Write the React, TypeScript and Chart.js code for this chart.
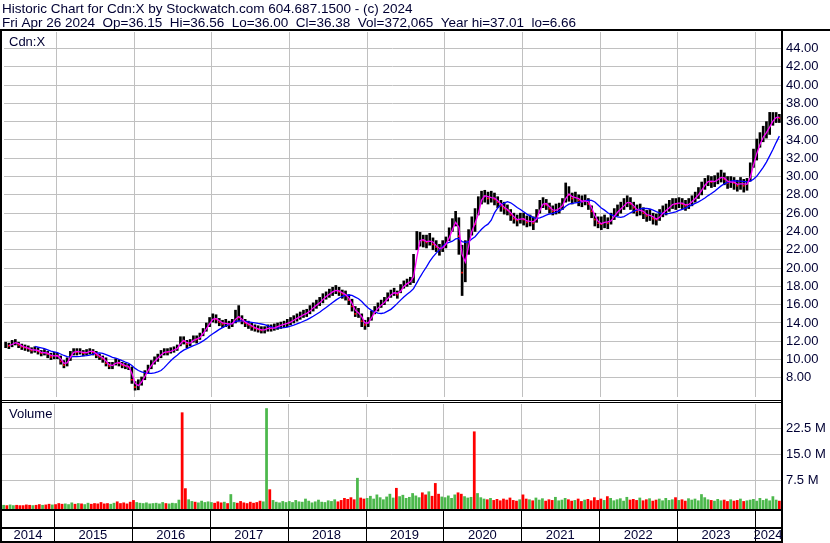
import React, { useEffect, useRef } from 'react';
import { Chart, registerables } from 'chart.js';

Chart.register(...registerables);

// ---------- text ----------
const TITLE_LINE_1 = 'Historic Chart for Cdn:X by Stockwatch.com 604.687.1500 - (c) 2024';
const TITLE_LINE_2 = 'Fri Apr 26 2024  Op=36.15  Hi=36.56  Lo=36.00  Cl=36.38  Vol=372,065  Year hi=37.01  lo=6.66';
const SYMBOL = 'Cdn:X';
const VOLUME_TITLE = 'Volume';

// ---------- periods (half-months, May 2014 .. Apr 2024) ----------
const FIRST_YEAR = 2014;
const FIRST_MONTH = 5;
const PERIOD_COUNT = 240;
const PERIODS: string[] = [];
for (let k = 0; k < PERIOD_COUNT; k++) {
  const m = FIRST_MONTH - 1 + Math.floor(k / 2);
  const y = FIRST_YEAR + Math.floor(m / 12);
  PERIODS.push(`${y}-${(m % 12) + 1}${k % 2 ? 'b' : 'a'}`);
}

// ---------- price (half-month high / low / close) ----------
const HIGH = [
  11.9, 11.8, 12.1, 12.2, 11.9, 11.7, 11.6, 11.5, 11.3, 11.4, 11.3, 11.0, 11.1, 10.9, 10.7, 10.8,
  10.7, 10.4, 9.9, 10.2, 10.9, 11.2, 11.2, 11.2, 11.0, 11.1, 11.2, 11.1, 10.9, 10.6, 10.4, 10.2, 9.7, 9.7, 10.1, 10.0, 9.7, 9.6, 9.5, 9.2,
  7.6, 7.8, 8.1, 8.8, 9.4, 9.9, 10.3, 10.6, 11.0, 11.2, 11.2, 11.3, 11.4, 11.6, 12.5, 12.5, 12.1, 12.2, 12.6, 12.6, 12.9, 13.4, 14.0, 14.6,
  15.0, 14.9, 14.5, 14.3, 14.4, 14.2, 14.4, 15.4, 15.9, 14.8, 14.4, 14.2, 14.0, 13.8, 13.7, 13.6, 13.6, 13.8, 13.8, 13.9, 14.0, 14.1, 14.2, 14.4,
  14.6, 14.8, 15.0, 15.2, 15.4, 15.5, 15.9, 16.2, 16.5, 16.8, 17.2, 17.4, 17.7, 17.9, 18.1, 17.9, 17.6, 17.5, 17.1, 16.6, 15.8, 15.6, 15.0, 14.3,
  14.6, 15.3, 15.8, 16.2, 16.5, 16.8, 17.3, 17.6, 17.8, 17.5, 18.2, 18.6, 18.8, 19.0, 21.5, 24.0, 23.9, 23.6, 23.6, 23.8, 23.3, 23.0, 22.6, 23.0,
  23.4, 24.4, 25.4, 26.2, 25.5, 22.5, 23.0, 24.2, 25.6, 26.5, 27.8, 28.4, 28.5, 28.3, 28.4, 28.2, 27.8, 27.4, 27.2, 26.9, 26.4, 26.0, 25.8, 26.0,
  26.0, 25.7, 25.8, 25.6, 26.4, 27.4, 27.7, 27.5, 27.1, 26.8, 27.0, 27.1, 27.6, 29.3, 28.9, 28.2, 28.3, 28.0, 27.9, 28.0, 27.6, 26.8, 26.0, 25.6,
  25.6, 25.8, 25.5, 26.0, 26.5, 26.9, 27.2, 27.6, 27.9, 27.7, 27.2, 26.9, 27.0, 26.6, 26.3, 26.4, 26.0, 25.9, 26.4, 26.8, 27.0, 27.4, 27.6, 27.6,
  27.7, 27.6, 27.4, 27.6, 27.9, 28.3, 28.8, 29.4, 29.8, 30.1, 30.0, 30.1, 30.4, 30.7, 30.4, 30.0, 30.0, 29.9, 29.6, 29.9, 29.7, 29.8, 31.5, 33.0,
  34.1, 34.8, 35.5, 36.0, 37.01, 37.0, 37.0, 36.8,
];

const LOW = [
  11.3, 11.2, 11.4, 11.6, 11.3, 11.1, 11.0, 10.9, 10.7, 10.8, 10.6, 10.4, 10.5, 10.2, 10.0, 10.1,
  10.1, 9.5, 9.1, 9.3, 9.9, 10.5, 10.5, 10.6, 10.4, 10.5, 10.6, 10.5, 10.2, 10.0, 9.7, 9.3, 9.0, 9.0, 9.4, 9.3, 9.1, 9.0, 8.9, 7.4,
  6.66, 6.7, 7.2, 7.8, 8.5, 9.0, 9.5, 9.8, 10.2, 10.5, 10.5, 10.7, 10.8, 11.0, 11.5, 11.7, 11.3, 11.5, 11.9, 11.8, 12.2, 12.6, 13.1, 13.6,
  14.1, 14.0, 13.7, 13.5, 13.6, 13.4, 13.6, 14.0, 14.2, 13.9, 13.6, 13.4, 13.2, 13.1, 13.0, 12.9, 12.9, 13.1, 13.1, 13.2, 13.3, 13.4, 13.5, 13.6,
  13.8, 14.0, 14.2, 14.4, 14.6, 14.7, 15.0, 15.3, 15.6, 15.9, 16.2, 16.6, 16.8, 17.0, 17.2, 17.0, 16.7, 16.5, 16.0, 15.3, 14.7, 14.6, 13.6, 13.3,
  13.6, 14.3, 15.0, 15.3, 15.7, 16.0, 16.4, 16.8, 17.0, 16.7, 17.3, 17.8, 18.0, 18.2, 18.4, 22.0, 22.4, 22.3, 22.2, 22.5, 22.0, 21.8, 21.4, 21.8,
  22.2, 23.0, 24.0, 24.6, 21.5, 17.0, 18.5, 21.5, 23.6, 24.0, 25.8, 27.0, 27.2, 27.0, 27.2, 26.9, 26.6, 26.2, 25.9, 25.8, 25.2, 24.9, 24.6, 24.9,
  24.7, 24.5, 24.6, 24.2, 25.0, 26.0, 26.6, 26.4, 26.0, 25.8, 25.9, 26.0, 26.4, 27.2, 27.3, 27.0, 27.2, 26.8, 26.7, 26.9, 26.4, 25.5, 24.6, 24.4,
  24.2, 24.4, 24.3, 24.8, 25.3, 25.7, 26.0, 26.4, 26.7, 26.4, 26.0, 25.7, 25.8, 25.4, 25.1, 25.2, 24.8, 24.7, 25.2, 25.6, 25.8, 26.2, 26.5, 26.4,
  26.6, 26.5, 26.3, 26.5, 26.8, 27.2, 27.6, 28.0, 28.6, 29.0, 28.8, 28.9, 29.2, 29.4, 29.1, 28.7, 28.8, 28.6, 28.4, 28.6, 28.3, 28.5, 29.5, 31.0,
  31.8, 33.2, 33.8, 34.2, 34.6, 35.6, 35.9, 35.9,
];

const CLOSE = [
  11.6, 11.5, 11.8, 11.9, 11.6, 11.4, 11.3, 11.2, 11.0, 11.1, 10.9, 10.7, 10.8, 10.6, 10.3, 10.5,
  10.4, 9.8, 9.4, 9.9, 10.6, 11.0, 10.8, 10.9, 10.7, 10.8, 11.0, 10.8, 10.5, 10.3, 10.1, 9.6, 9.3, 9.4, 9.8, 9.6, 9.4, 9.3, 9.2, 7.8,
  7.0, 7.3, 7.8, 8.5, 9.1, 9.6, 10.0, 10.3, 10.7, 10.9, 10.8, 11.0, 11.1, 11.3, 12.2, 12.0, 11.7, 11.9, 12.3, 12.2, 12.6, 13.1, 13.6, 14.2,
  14.6, 14.4, 14.1, 13.9, 14.0, 13.8, 14.0, 14.8, 14.6, 14.2, 14.0, 13.8, 13.6, 13.4, 13.3, 13.2, 13.3, 13.5, 13.4, 13.5, 13.7, 13.8, 13.9, 14.0,
  14.2, 14.4, 14.6, 14.8, 15.0, 15.1, 15.5, 15.8, 16.1, 16.3, 16.8, 17.0, 17.3, 17.5, 17.6, 17.4, 17.2, 17.0, 16.5, 15.8, 15.0, 15.2, 14.2, 13.8,
  14.2, 14.9, 15.4, 15.8, 16.1, 16.4, 16.9, 17.2, 17.4, 17.1, 17.8, 18.2, 18.4, 18.6, 19.5, 22.8, 23.2, 23.0, 22.8, 23.1, 22.6, 22.3, 22.0, 22.4,
  22.8, 23.8, 24.6, 25.4, 23.5, 19.5, 21.8, 23.0, 25.0, 24.8, 27.0, 27.8, 28.0, 27.6, 27.8, 27.5, 27.2, 26.8, 26.5, 26.3, 25.8, 25.4, 25.2, 25.5,
  25.3, 25.0, 25.2, 24.9, 25.8, 26.8, 27.2, 26.9, 26.5, 26.2, 26.4, 26.6, 27.0, 28.2, 28.0, 27.6, 27.8, 27.4, 27.2, 27.5, 27.0, 26.2, 25.3, 24.9,
  24.8, 25.2, 24.9, 25.4, 25.9, 26.3, 26.6, 27.0, 27.3, 27.0, 26.6, 26.2, 26.4, 26.0, 25.7, 25.8, 25.4, 25.3, 25.8, 26.2, 26.4, 26.8, 27.1, 27.0,
  27.2, 27.0, 26.8, 27.1, 27.4, 27.8, 28.2, 28.8, 29.3, 29.6, 29.4, 29.5, 29.8, 30.0, 29.7, 29.3, 29.5, 29.3, 29.0, 29.4, 29.0, 29.3, 30.5, 32.0,
  33.0, 34.0, 34.6, 35.0, 35.8, 36.3, 36.6, 36.38,
];

// ---------- volume (millions) ----------
const VOLUME = [
  0.4, 0.3, 0.5, 0.3, 0.4, 0.3, 0.3, 0.5, 0.4, 0.3, 0.4, 0.6, 0.4, 0.5, 0.7, 0.5,
  0.6, 0.9, 0.7, 0.8, 0.6, 1.1, 0.7, 0.9, 0.8, 0.6, 1.0, 0.7, 0.9, 0.8, 1.2, 0.8, 0.9, 0.7, 1.0, 1.4, 0.9, 1.1, 0.8, 1.3,
  1.8, 1.2, 1.0, 0.9, 1.1, 0.8, 0.9, 1.0, 0.8, 1.2, 0.9, 0.8, 1.0, 0.9, 1.9, 27.1, 5.2, 2.0, 1.5, 1.3, 1.1, 1.6, 1.2, 1.4,
  1.2, 1.0, 1.4, 1.1, 1.3, 0.9, 3.5, 1.2, 1.0, 1.5, 1.1, 0.9, 1.3, 1.0, 1.2, 1.6, 1.4, 28.3, 4.9, 1.8, 1.3, 1.1, 1.5, 1.2,
  1.5, 1.2, 1.8, 1.4, 1.3, 2.2, 1.6, 1.1, 1.4, 1.9, 1.3, 1.2, 1.7, 1.5, 2.0, 1.4, 1.8, 2.4, 2.1, 2.6, 2.0, 8.2, 2.5, 2.2,
  2.4, 3.0, 2.2, 3.4, 2.6, 2.0, 2.8, 3.6, 2.5, 5.3, 2.9, 3.3, 2.4, 2.7, 3.8, 3.1, 2.6, 4.0, 3.4, 4.3, 3.0, 6.7, 3.6, 2.8,
  2.6, 3.1, 2.4, 3.4, 4.0, 3.6, 2.9, 2.5, 2.7, 21.6, 3.8, 2.6, 2.2, 2.0, 2.4, 1.8, 2.1, 1.7, 2.2, 1.9, 2.5, 1.8, 1.6, 2.0,
  3.4, 2.2, 2.0, 1.7, 2.5, 1.9, 2.3, 1.6, 2.0, 1.8, 2.7, 1.7, 1.9, 2.4, 2.0, 1.6, 1.8, 2.2, 1.5, 1.9, 2.1, 1.7, 2.6, 1.8,
  2.2, 1.8, 2.9, 2.4, 1.7, 2.0, 2.3, 1.6, 2.7, 1.9, 2.1, 1.8, 2.5, 1.7, 2.0, 2.3, 1.6, 1.9, 2.2, 1.7, 2.4, 1.8, 2.0, 2.6,
  1.8, 2.0, 1.6, 2.3, 1.9, 2.2, 1.7, 3.5, 2.6, 2.0, 1.8, 1.6, 2.1, 1.7, 1.9, 1.5, 2.0, 1.6, 1.8, 2.2, 1.5, 1.7, 1.9, 2.1,
  1.6, 2.4, 1.8, 2.2, 1.7, 2.9, 1.9, 1.6,
];

// ---------- axes ----------
const PRICE_MIN = 5.914;
const PRICE_MAX = 45.794;
const PRICE_STEP = 2;
const PRICE_LABEL_MIN = 8;
const PRICE_LABEL_MAX = 44;
const VOL_MIN = -0.78;
const VOL_MAX = 30.375;
const VOL_STEP = 7.5;
const VOL_LABEL_MIN = 7.5;
const VOL_LABEL_MAX = 22.5;
const MA_SHORT = 2;
const MA_LONG = 10;

const FONT = '"Liberation Sans", Arial, sans-serif';
const TEXT = '#000033';
const GRID = '#c0c0c0';
const UP = '#4cb84c';
const DOWN = '#ff0000';

const W = 830;
const H = 543;
const PRICE_H = 401; // price canvas: page rows 0..400
const VOL_TOP = 401; // volume canvas starts at page row 401
const AXIS_W = 49;

function movingAverage(src: number[], n: number) {
  return src.map((_, i) => {
    if (i < n - 1) return null;
    let s = 0;
    for (let k = i - n + 1; k <= i; k++) s += src[k];
    return s / n;
  });
}

const isDown = (i: number) => i > 0 && CLOSE[i] < CLOSE[i - 1];

function yearBounds(chart: any) {
  const x = chart.scales.x;
  const area = chart.chartArea;
  const bounds: number[] = [area.left];
  const years: string[] = [PERIODS[0].slice(0, 4)];
  PERIODS.forEach((p, i) => {
    if (i > 0 && p.endsWith('-1a')) {
      bounds.push((x.getPixelForValue(i - 1) + x.getPixelForValue(i)) / 2);
      years.push(p.slice(0, 4));
    }
  });
  bounds.push(area.right);
  return { bounds, years };
}

function drawYearGrid(chart: any, top: number) {
  const { ctx, chartArea } = chart;
  const { bounds } = yearBounds(chart);
  ctx.save();
  ctx.fillStyle = GRID;
  for (let k = 1; k < bounds.length - 1; k++) {
    ctx.fillRect(Math.round(bounds[k]), top, 1, Math.round(chartArea.bottom) - top);
  }
  ctx.restore();
}

const pricePanel = {
  id: 'pricePanel',
  beforeDatasetsDraw(chart: any) {
    drawYearGrid(chart, Math.round(chart.chartArea.top));
  },
  afterDraw(chart: any) {
    const { ctx, chartArea } = chart;
    const R = Math.round(chartArea.right);
    ctx.save();
    ctx.fillStyle = TEXT;
    ctx.textAlign = 'left';
    ctx.textBaseline = 'alphabetic';
    ctx.font = `13.5px ${FONT}`;
    ctx.fillText(TITLE_LINE_1, 2, 13);
    ctx.fillText(TITLE_LINE_2, 2, 27);
    ctx.font = `13px ${FONT}`;
    ctx.fillText(SYMBOL, 9, 46);
    ctx.fillStyle = '#000';
    ctx.fillRect(0, 29, chart.width, 2);
    ctx.fillRect(0, 29, 2, chart.height - 29);
    ctx.fillRect(R, 29, 2, chart.height - 29);
    ctx.fillRect(0, 400, R + 2, 1);
    ctx.restore();
  },
};

const volumePanel = {
  id: 'volumePanel',
  beforeDatasetsDraw(chart: any) {
    drawYearGrid(chart, 3);
  },
  afterDraw(chart: any) {
    const { ctx, chartArea } = chart;
    const R = Math.round(chartArea.right);
    const off = VOL_TOP;
    ctx.save();
    ctx.fillStyle = TEXT;
    ctx.textAlign = 'left';
    ctx.textBaseline = 'alphabetic';
    ctx.font = `13px ${FONT}`;
    ctx.fillText(VOLUME_TITLE, 9, 418 - off);
    ctx.fillStyle = '#000';
    ctx.fillRect(0, 0, 2, chart.height);
    ctx.fillRect(R, 0, 2, chart.height);
    ctx.fillRect(0, 402 - off, R + 2, 1);
    ctx.fillRect(0, 509 - off, R + 2, 2);
    ctx.fillRect(0, 527 - off, R + 2, 2);
    ctx.fillRect(0, 541 - off, R + 2, 2);
    const { bounds, years } = yearBounds(chart);
    for (let k = 1; k < bounds.length - 1; k++) {
      ctx.fillRect(Math.round(bounds[k]), 511 - off, 1, 30);
    }
    ctx.fillStyle = TEXT;
    ctx.textAlign = 'center';
    ctx.textBaseline = 'middle';
    years.forEach((y, k) => {
      ctx.fillText(y, (bounds[k] + bounds[k + 1]) / 2, 535 - off);
    });
    ctx.restore();
  },
};

function rightAxis(min: number, max: number, step: number, lo: number, hi: number, fmt: (v: number) => string) {
  return {
    type: 'linear',
    position: 'right',
    min,
    max,
    afterFit: (s: any) => {
      s.width = AXIS_W;
      s.paddingTop = 0;
      s.paddingBottom = 0;
    },
    afterBuildTicks: (s: any) => { s.ticks = s.ticks.filter((t: any) => t.value >= lo - 1e-6 && t.value <= hi + 1e-6); },
    border: { display: false },
    grid: { color: GRID, lineWidth: 1, drawTicks: false },
    ticks: {
      stepSize: step,
      includeBounds: false,
      autoSkip: false,
      padding: 5,
      color: TEXT,
      font: { family: FONT, size: 13 },
      callback: (v: any) => fmt(Number(v)),
    },
  };
}

export default function App() {
  const priceRef = useRef<HTMLCanvasElement>(null);
  const volRef = useRef<HTMLCanvasElement>(null);
  useEffect(() => {
    const shortMa = movingAverage(CLOSE, MA_SHORT);
    const longMa = movingAverage(CLOSE, MA_LONG);
    const priceChart = new Chart(priceRef.current as HTMLCanvasElement, {
      type: 'bar',
      data: {
        labels: PERIODS,
        datasets: [
          { type: 'line', data: shortMa, borderColor: '#ff00ff', borderWidth: 1.3, pointRadius: 0, fill: false, order: 1 } as any,
          { type: 'line', data: longMa, borderColor: '#0000ff', borderWidth: 1.3, pointRadius: 0, fill: false, order: 2 } as any,
          {
            type: 'line',
            data: CLOSE.map((c, i) => (isDown(i) ? c : null)),
            showLine: false,
            pointStyle: 'rect',
            pointRadius: 1.2,
            pointBorderWidth: 0,
            pointBackgroundColor: '#ff0000',
            fill: false,
            order: 3,
          } as any,
          {
            type: 'bar',
            data: PERIODS.map((_, i) => [LOW[i], HIGH[i]]),
            backgroundColor: '#000000',
            barThickness: 2,
            order: 4,
          } as any,
        ],
      },
      options: {
        responsive: false,
        animation: false,
        devicePixelRatio: 1,
        layout: { padding: { top: 32, bottom: 0, left: 2, right: 0 } },
        plugins: { legend: { display: false }, tooltip: { enabled: false } },
        scales: {
          x: { type: 'category', display: false, offset: true },
          y: rightAxis(PRICE_MIN, PRICE_MAX, PRICE_STEP, PRICE_LABEL_MIN, PRICE_LABEL_MAX, (v) => v.toFixed(2)),
        },
      } as any,
      plugins: [pricePanel],
    });
    const volChart = new Chart(volRef.current as HTMLCanvasElement, {
      type: 'bar',
      data: {
        labels: PERIODS,
        datasets: [
          {
            data: VOLUME,
            base: VOL_MIN,
            backgroundColor: VOLUME.map((_, i) => (isDown(i) ? DOWN : UP)),
            barPercentage: 0.85,
            categoryPercentage: 1,
          } as any,
        ],
      },
      options: {
        responsive: false,
        animation: false,
        devicePixelRatio: 1,
        layout: { padding: { top: 0, bottom: H - 509, left: 2, right: 0 } },
        plugins: { legend: { display: false }, tooltip: { enabled: false } },
        scales: {
          x: { type: 'category', display: false, offset: true },
          y: rightAxis(VOL_MIN, VOL_MAX, VOL_STEP, VOL_LABEL_MIN, VOL_LABEL_MAX, (v) => v.toFixed(1) + ' M'),
        },
      } as any,
      plugins: [volumePanel],
    });
    return () => {
      priceChart.destroy();
      volChart.destroy();
    };
  }, []);
  return (
    <div style={{ position: 'absolute', left: 0, top: 0, width: W, height: H, background: '#ffffff' }}>
      <canvas
        ref={priceRef}
        width={W}
        height={PRICE_H}
        style={{ position: 'absolute', left: 0, top: 0, width: W, height: PRICE_H, display: 'block' }}
      />
      <canvas
        ref={volRef}
        width={W}
        height={H - VOL_TOP}
        style={{ position: 'absolute', left: 0, top: VOL_TOP, width: W, height: H - VOL_TOP, display: 'block' }}
      />
    </div>
  );
}
